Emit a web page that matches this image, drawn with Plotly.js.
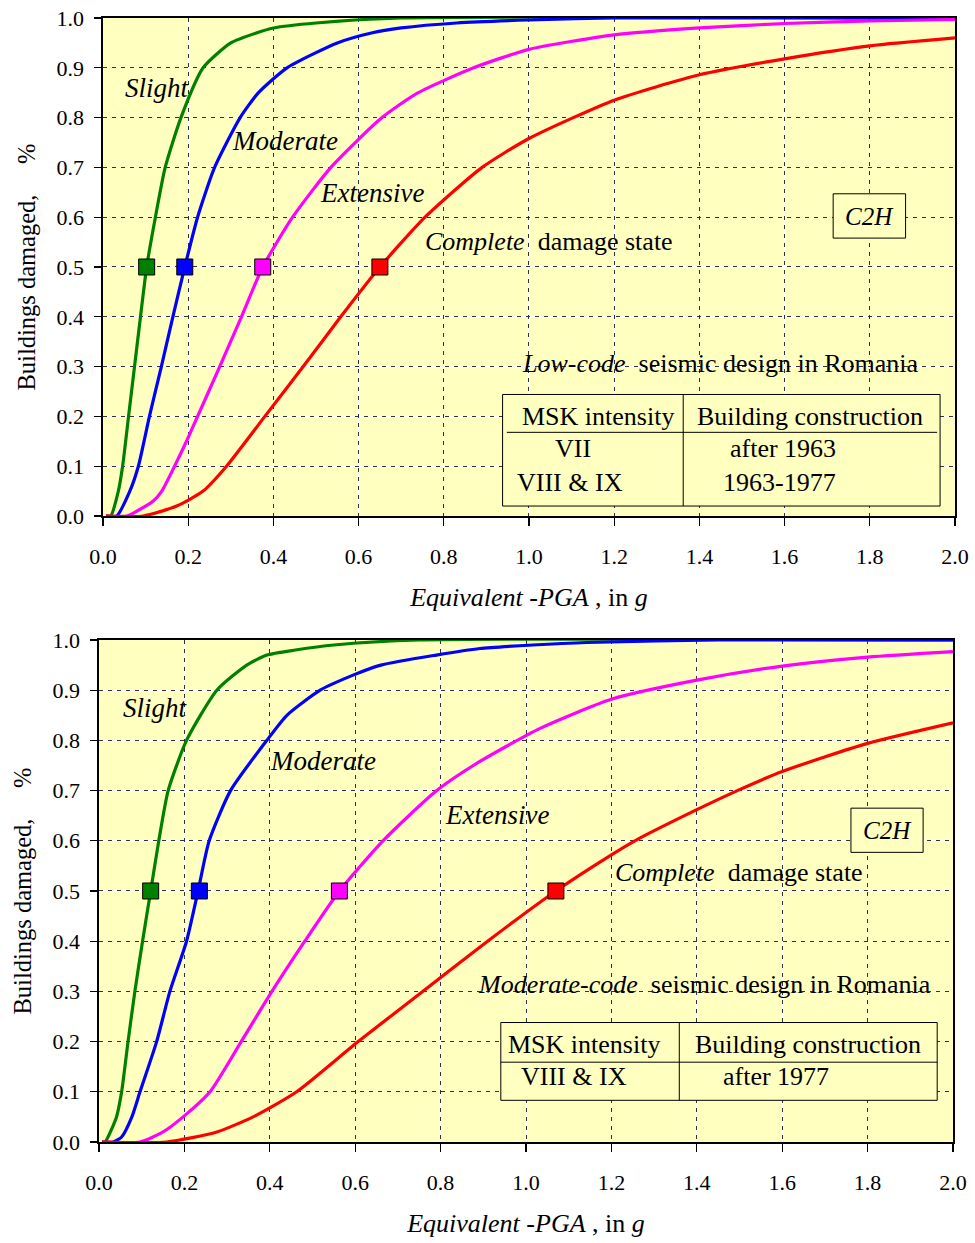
<!DOCTYPE html>
<html>
<head>
<meta charset="utf-8">
<script src="https://cdn.plot.ly/plotly-3.0.1.min.js"></script>
<style>html,body{margin:0;padding:0;background:#fff;}#chart{width:975px;height:1243px;}</style>
</head>
<body>
<div id="chart"></div>
<script>
// ---------- Data ----------
// Top panel: Low-code seismic design
const lowSlightX    = [0.007,0.018,0.036,0.046,0.060,0.074,0.088,0.1025,0.123,0.146,0.183,0.235,0.30,0.36,0.40,0.50,0.70,2.0];
const lowSlightY    = [0,0,0.05,0.1,0.2,0.3,0.4,0.5,0.6,0.7,0.8,0.9,0.95,0.97,0.98,0.99,1.0,1.0];
const lowModerateX  = [0.007,0.032,0.063,0.083,0.109,0.137,0.164,0.192,0.222,0.262,0.322,0.365,0.432,0.55,0.63,0.70,0.83,1.0,1.2,2.0];
const lowModerateY  = [0,0,0.05,0.1,0.2,0.3,0.4,0.5,0.6,0.7,0.8,0.85,0.9,0.95,0.97,0.98,0.99,0.996,1.0,1.0];
const lowExtensiveX = [0.007,0.056,0.080,0.118,0.138,0.168,0.196,0.222,0.274,0.325,0.375,0.445,0.535,0.655,0.74,0.87,1.0,1.2,1.4,1.6,1.8,2.0];
const lowExtensiveY = [0,0,0.01,0.03,0.05,0.1,0.15,0.2,0.3,0.4,0.5,0.6,0.7,0.8,0.85,0.9,0.937,0.966,0.980,0.989,0.994,0.997];
const lowCompleteX  = [0.007,0.094,0.173,0.235,0.290,0.380,0.470,0.558,0.650,0.756,0.89,1.0,1.2,1.4,1.6,1.8,2.0];
const lowCompleteY  = [0,0,0.02,0.05,0.1,0.2,0.3,0.4,0.5,0.6,0.7,0.758,0.835,0.886,0.918,0.944,0.96];
const lowMedians    = [0.1025,0.192,0.375,0.65];

// Bottom panel: Moderate-code seismic design
const modSlightX    = [0.007,0.014,0.041,0.053,0.068,0.084,0.102,0.121,0.140,0.162,0.205,0.276,0.346,0.393,0.46,0.55,0.75,2.0];
const modSlightY    = [0,0,0.05,0.1,0.2,0.3,0.4,0.5,0.6,0.7,0.8,0.9,0.95,0.97,0.98,0.99,1.0,1.0];
const modModerateX  = [0.007,0.033,0.053,0.077,0.096,0.135,0.166,0.205,0.232,0.258,0.308,0.393,0.440,0.518,0.595,0.66,0.79,0.892,1.016,1.143,1.45,2.0];
const modModerateY  = [0,0,0.01,0.05,0.1,0.2,0.3,0.4,0.5,0.6,0.7,0.8,0.85,0.9,0.93,0.95,0.97,0.983,0.99,0.995,1.0,1.0];
const modExtensiveX = [0.007,0.096,0.150,0.197,0.260,0.333,0.405,0.482,0.563,0.665,0.791,0.892,1.033,1.2,1.4,1.6,1.8,2.0];
const modExtensiveY = [0,0,0.02,0.05,0.1,0.2,0.3,0.4,0.5,0.6,0.7,0.758,0.824,0.882,0.920,0.948,0.966,0.977];
const modCompleteX  = [0.007,0.158,0.276,0.361,0.463,0.607,0.758,0.910,1.070,1.2,1.255,1.4,1.495,1.6,1.8,2.0];
const modCompleteY  = [0,0,0.02,0.05,0.1,0.2,0.3,0.4,0.5,0.572,0.6,0.662,0.7,0.738,0.794,0.835];
const modMedians    = [0.121,0.235,0.563,1.07];

const damageStates  = ['Slight','Moderate','Extensive','Complete'];
const medianLevel   = [0.5,0.5,0.5,0.5];

// ---------- Styling ----------
const FONT = 'Liberation Serif, Times New Roman, serif';
const COLORS = ['#008000','#0000FF','#FF00FF','#FF0000'];
const BG = '#FFFFC0';

function curve(x, y, color, xa, ya, name){
  return {type:'scatter', mode:'lines', x:x, y:y, name:name, xaxis:xa, yaxis:ya,
    line:{color:color, width:3.2, shape:'spline', smoothing:0.6}, showlegend:false, hoverinfo:'skip'};
}
function medians(x, xa, ya){
  return {type:'scatter', mode:'markers', x:x, y:medianLevel, xaxis:xa, yaxis:ya, text:damageStates,
    marker:{symbol:'square', size:16, color:COLORS, line:{color:'#000', width:1}}, showlegend:false, hoverinfo:'skip'};
}
const dummy = (xa, ya) => ({type:'scatter', mode:'lines', x:[0], y:[0], xaxis:xa, yaxis:ya,
  line:{width:0}, showlegend:false, hoverinfo:'skip', opacity:0});

const data = [
  dummy('x3','y3'), dummy('x4','y4'),
  curve(lowSlightX, lowSlightY, COLORS[0], 'x','y','Slight'),
  curve(lowModerateX, lowModerateY, COLORS[1], 'x','y','Moderate'),
  curve(lowExtensiveX, lowExtensiveY, COLORS[2], 'x','y','Extensive'),
  curve(lowCompleteX, lowCompleteY, COLORS[3], 'x','y','Complete'),
  medians(lowMedians, 'x','y'),
  curve(modSlightX, modSlightY, COLORS[0], 'x2','y2','Slight'),
  curve(modModerateX, modModerateY, COLORS[1], 'x2','y2','Moderate'),
  curve(modExtensiveX, modExtensiveY, COLORS[2], 'x2','y2','Extensive'),
  curve(modCompleteX, modCompleteY, COLORS[3], 'x2','y2','Complete'),
  medians(modMedians, 'x2','y2')
];

const tickFont = {family:FONT, size:22, color:'#000'};
const xTitle = {text:'<i>Equivalent -PGA</i> , in <i>g</i>', font:{family:FONT, size:26, color:'#000'}, standoff:20};
const yTitle = {text:'Buildings damaged,&nbsp;&nbsp;&nbsp;&nbsp;&nbsp;%', font:{family:FONT, size:24.5, color:'#000'}, standoff:14};

function mainX(domain, anchor){
  return {domain:domain, anchor:anchor, range:[0,2], dtick:0.2, tick0:0, tickformat:'.1f',
    ticks:'outside', ticklen:8, tickcolor:'#000', tickwidth:1.2, ticklabelstandoff:12,
    showline:true, mirror:true, linecolor:'#000', linewidth:1.6,
    showgrid:true, gridcolor:'#FFFFFF', gridwidth:1, zeroline:false, tickfont:tickFont, title:xTitle};
}
function mainY(domain, anchor){
  return {domain:domain, anchor:anchor, range:[0,1], dtick:0.1, tick0:0, tickformat:'.1f',
    ticks:'outside', ticklen:7, tickcolor:'#000', tickwidth:1.2, ticklabelstandoff:6,
    showline:true, mirror:true, linecolor:'#000', linewidth:1.6,
    showgrid:true, gridcolor:'#FFFFFF', gridwidth:1, zeroline:false, tickfont:tickFont, title:yTitle};
}
function gridX(over, anchor){
  return {overlaying:over, anchor:anchor, range:[0,2], dtick:0.2, tick0:0, showticklabels:false, ticks:'',
    showline:false, showgrid:true, gridcolor:'#333', gridwidth:1, griddash:'4px,5px', zeroline:false};
}
function gridY(over, anchor){
  return {overlaying:over, anchor:anchor, range:[0,1], dtick:0.1, tick0:0, showticklabels:false, ticks:'',
    showline:false, showgrid:true, gridcolor:'#333', gridwidth:1, griddash:'4px,5px', zeroline:false};
}

function ann(text, x, y, xa, ya, size){
  return {text:text, x:x, y:y, xref:xa, yref:ya, showarrow:false, xanchor:'center', yanchor:'middle',
    font:{family:FONT, size:size, color:'#000'}};
}
// Text boxes sit in empty areas of the plot (no curves cross them), drawn over the grid
function rect(x0,x1,y0,y1,xa,ya){
  return {type:'rect', layer:'above', xref:xa, yref:ya, x0:x0, x1:x1, y0:y0, y1:y1, line:{color:'#000', width:1}, fillcolor:BG};
}
function seg(x0,x1,y0,y1,xa,ya){
  return {type:'line', layer:'above', xref:xa, yref:ya, x0:x0, x1:x1, y0:y0, y1:y1, line:{color:'#000', width:1}};
}
const SP = '&nbsp;&nbsp;';
const LBL = 27, TXT = 26;

const layout = {
  width:975, height:1243, margin:{l:0, r:0, t:0, b:0},
  paper_bgcolor:'#FFFFFF', plot_bgcolor:BG, showlegend:false,
  font:{family:FONT, color:'#000'},
  xaxis: mainX([0.10564,0.97949],'y'),
  yaxis: mainY([0.58488,0.98552],'x'),
  xaxis2: mainX([0.10154,0.97744],'y2'),
  yaxis2: mainY([0.08126,0.48512],'x2'),
  xaxis3: gridX('x','y3'),
  yaxis3: gridY('y','x3'),
  xaxis4: gridX('x2','y4'),
  yaxis4: gridY('y2','x4'),
  annotations: [
    ann('<i>Slight</i>', 0.127, 0.86, 'x','y', LBL),
    ann('<i>Moderate</i>', 0.427, 0.753, 'x','y', LBL),
    ann('<i>Extensive</i>', 0.631, 0.649, 'x','y', LBL),
    ann('<i>Complete</i>'+SP+'damage state', 1.048, 0.552, 'x','y', TXT),
    ann('<i>C2H</i>', 1.799, 0.602, 'x','y', 25),
    ann('<i>Low-code</i>'+SP+'seismic design in Romania', 1.448, 0.307, 'x','y', TXT),
    ann('MSK intensity', 1.162, 0.199, 'x','y', TXT),
    ann('Building construction', 1.66, 0.199, 'x','y', TXT),
    ann('VII', 1.103, 0.135, 'x','y', TXT),
    ann('after 1963', 1.596, 0.135, 'x','y', TXT),
    ann('VIII &amp; IX', 1.096, 0.067, 'x','y', TXT),
    ann('1963-1977', 1.587, 0.067, 'x','y', TXT),

    ann('<i>Slight</i>', 0.133, 0.865, 'x2','y2', LBL),
    ann('<i>Moderate</i>', 0.525, 0.759, 'x2','y2', LBL),
    ann('<i>Extensive</i>', 0.932, 0.651, 'x2','y2', LBL),
    ann('<i>Complete</i>'+SP+'damage state', 1.499, 0.536, 'x2','y2', TXT),
    ann('<i>C2H</i>', 1.846, 0.621, 'x2','y2', 25),
    ann('<i>Moderate-code</i>'+SP+'seismic design in Romania', 1.418, 0.313, 'x2','y2', TXT),
    ann('MSK intensity', 1.136, 0.195, 'x2','y2', TXT),
    ann('Building construction', 1.661, 0.195, 'x2','y2', TXT),
    ann('VIII &amp; IX', 1.113, 0.130, 'x2','y2', TXT),
    ann('after 1977', 1.585, 0.130, 'x2','y2', TXT)
  ],
  shapes: [
    rect(1.714,1.884,0.558,0.647,'x','y'),
    rect(0.938,1.965,0.020,0.244,'x','y'),
    seg(1.362,1.362,0.020,0.244,'x','y'),
    seg(0.948,1.958,0.168,0.168,'x','y'),
    rect(1.761,1.930,0.577,0.665,'x2','y2'),
    rect(0.941,1.963,0.083,0.238,'x2','y2'),
    seg(1.359,1.359,0.083,0.238,'x2','y2'),
    seg(0.941,1.963,0.159,0.159,'x2','y2')
  ]
};

Plotly.newPlot('chart', data, layout, {staticPlot:true, displayModeBar:false});
</script>
</body>
</html>
